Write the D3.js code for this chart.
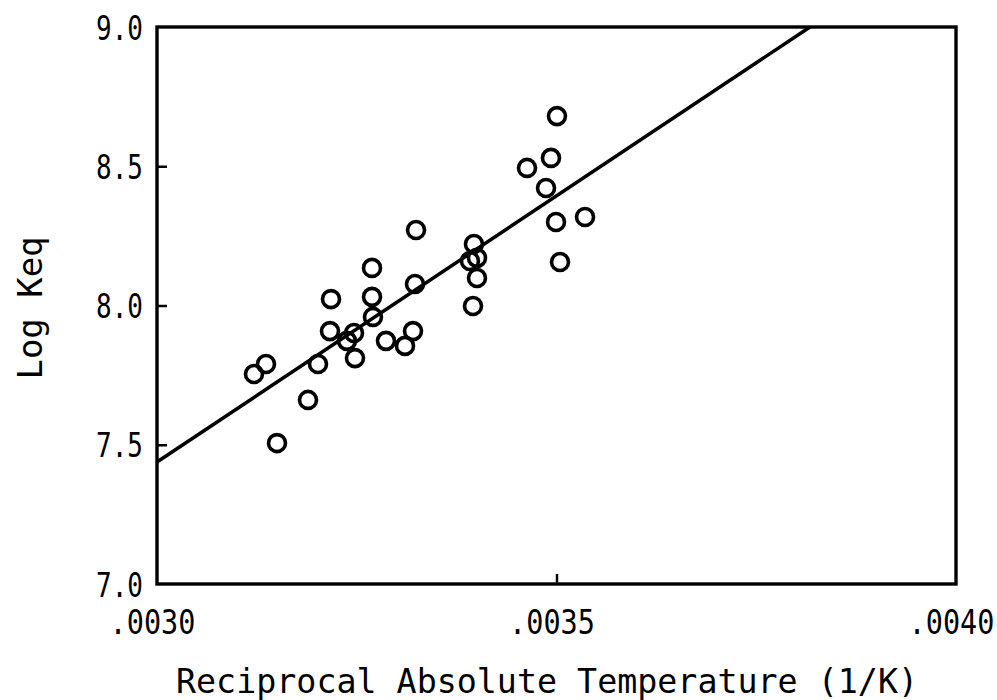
<!DOCTYPE html>
<html>
<head>
<meta charset="utf-8">
<script src="https://cdn.jsdelivr.net/npm/d3@7"></script>
<style>
  html, body { margin: 0; padding: 0; background: #fff; }
  svg { display: block; }
  text { font-family: "DejaVu Sans Mono", "Liberation Mono", monospace; fill: #000; }
</style>
</head>
<body>
<svg id="chart" width="997" height="700"></svg>
<script>
// Reciprocal absolute temperature (1/K)
const invT = [
  0.0031214, 0.0031364, 0.0031502, 0.0031890, 0.0032015, 0.0032178, 0.0032165,
  0.0032378, 0.0032466, 0.0032478, 0.0032691, 0.0032691, 0.0032703, 0.0032866,
  0.0033104, 0.0033204, 0.0033242, 0.0033229, 0.0033967, 0.0033917, 0.0034005,
  0.0034005, 0.0033955, 0.0034631, 0.0034931, 0.0034869, 0.0035006, 0.0034994,
  0.0035044, 0.0035357
];
// Log Keq
const logKeq = [
  7.754, 7.790, 7.506, 7.661, 7.790, 8.023, 7.908,
  7.873, 7.901, 7.811, 8.135, 8.031, 7.959, 7.873,
  7.855, 7.908, 8.271, 8.077, 8.221, 8.160, 8.171,
  8.099, 7.998, 8.494, 8.530, 8.422, 8.680, 8.300,
  8.156, 8.318
];
// Regression line end points
const fitX = [0.0030, 0.0038173];
const fitY = [7.438, 9.0];

const xTickValues = [0.0030, 0.0035, 0.0040];
const xTickLabels = [".0030", ".0035", ".0040"];
const yTickValues = [7.0, 7.5, 8.0, 8.5, 9.0];
const yTickLabels = ["7.0", "7.5", "8.0", "8.5", "9.0"];
const xTitle = "Reciprocal Absolute Temperature (1/K)";
const yTitle = "Log Keq";

const svg = d3.select("#chart");
const L = 157, R = 956, T = 27, B = 584;

const x = d3.scaleLinear().domain([0.0030, 0.0040]).range([L, R]);
const y = d3.scaleLinear().domain([7.0, 9.0]).range([B, T]);

// Frame
svg.append("rect")
  .attr("x", L).attr("y", T).attr("width", R - L).attr("height", B - T)
  .attr("fill", "none").attr("stroke", "#000").attr("stroke-width", 3.4);

// Left axis
const yAxis = d3.axisLeft(y)
  .tickValues(yTickValues)
  .tickFormat((d, i) => yTickLabels[i])
  .tickSizeInner(-10).tickSizeOuter(0).tickPadding(14);
const gy = svg.append("g").attr("transform", `translate(${L},0)`).call(yAxis);
gy.select(".domain").remove();
gy.selectAll(".tick line").attr("stroke", "#000").attr("stroke-width", 2.5)
  .filter(d => d === 7.0 || d === 9.0).remove();
gy.selectAll(".tick text")
  .attr("font-size", 26)
  .attr("font-family", '"DejaVu Sans Mono", monospace')
  .attr("x", 0).attr("dy", 0)
  .attr("transform", "translate(-14,12) scale(1,1.3)");

// Bottom axis
const xAxis = d3.axisBottom(x)
  .tickValues(xTickValues)
  .tickFormat((d, i) => xTickLabels[i])
  .tickSizeInner(-10).tickSizeOuter(0).tickPadding(14);
const gx = svg.append("g").attr("transform", `translate(0,${B})`).call(xAxis);
gx.select(".domain").remove();
gx.selectAll(".tick line").attr("stroke", "#000").attr("stroke-width", 2.5)
  .filter(d => d === 0.0030 || d === 0.0040).remove();
gx.selectAll(".tick text")
  .attr("font-size", 28.5)
  .attr("font-family", '"DejaVu Sans Mono", monospace')
  .attr("y", 0).attr("dy", 0)
  .attr("transform", "translate(-5,50) scale(1,1.2)");

// Regression line
const lineGen = d3.line().x(d => x(d[0])).y(d => y(d[1]));
svg.append("path")
  .datum(fitX.map((v, i) => [v, fitY[i]]))
  .attr("d", lineGen)
  .attr("fill", "none").attr("stroke", "#000").attr("stroke-width", 3.5);

// Points
svg.append("g").selectAll("circle")
  .data(invT.map((v, i) => [v, logKeq[i]]))
  .join("circle")
  .attr("cx", d => x(d[0])).attr("cy", d => y(d[1]))
  .attr("r", 8.5)
  .attr("fill", "none").attr("stroke", "#000").attr("stroke-width", 3.6);

// Axis titles
svg.append("text")
  .attr("x", 547).attr("y", 693)
  .attr("text-anchor", "middle")
  .attr("font-size", 33)
  .attr("textLength", 742).attr("lengthAdjust", "spacingAndGlyphs")
  .text(xTitle);

svg.append("text")
  .attr("transform", "translate(42,308) rotate(-90)")
  .attr("text-anchor", "middle")
  .attr("font-size", 34)
  .attr("textLength", 143).attr("lengthAdjust", "spacingAndGlyphs")
  .text(yTitle);
</script>
</body>
</html>
